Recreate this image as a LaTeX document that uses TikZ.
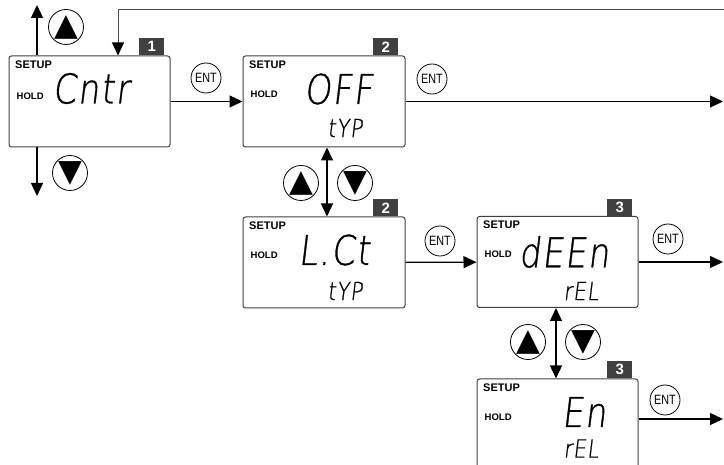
\documentclass[tikz,border=0pt]{standalone}
\usepackage{fontspec}
\setmainfont{Liberation Sans}
\newfontfamily\segfont[FakeSlant=0.12,FakeStretch=0.82,FakeBold=0.8,LetterSpace=4]{DejaVuSans-ExtraLight.ttf}
\newfontfamily\symfont{DejaVu Sans}
\newfontfamily\keyfont[FakeStretch=0.8]{Liberation Sans}
\usetikzlibrary{calc,arrows.meta}
\tikzset{
% LCD screens with their page tags
screen/.style={rectangle,draw=black!75,line width=1pt,rounded corners=2.5pt,minimum width=161pt,minimum height=91pt,inner sep=0},
pagetag/.style={fill=black!75,text=white,font=\bfseries\fontsize{15}{15}\selectfont,minimum width=25pt,minimum height=17pt,inner sep=0,anchor=south east},
setup/.style={font=\bfseries\fontsize{11}{11}\selectfont,anchor=west,inner sep=0},
hold/.style={font=\bfseries\fontsize{9.5}{9.5}\selectfont,anchor=west,inner sep=0},
bigseg/.style={font=\segfont\fontsize{41}{41}\selectfont,inner sep=0},
smallseg/.style={font=\segfont\fontsize{25}{25}\selectfont,inner sep=0},
% keys: arrow keys and ENT
arrowkey/.style={circle,draw,line width=0.8pt,minimum size=35pt,inner sep=0,font=\symfont\fontsize{31}{31}\selectfont},
enterkey/.style={circle,draw,line width=0.8pt,minimum size=30pt,inner sep=0,font=\keyfont\fontsize{13.5}{13.5}\selectfont},
link/.style={line width=1.3pt,-{Triangle[length=13pt,width=12pt,black]}},
twoway/.style={line width=1.3pt,{Triangle[length=13pt,width=12pt]}-{Triangle[length=13pt,width=12pt]}}
}
\begin{document}
\begin{tikzpicture}[x=1pt,y=-1pt]
\useasboundingbox (0,0) rectangle (724,465);
\clip (0,0) rectangle (724,465);

% screens
\node[screen] (cntr) at (89.5,101.5) {};
\node[screen,minimum width=162pt] (off) at (324,101.5) {};
\node[screen,minimum width=162pt] (lct) at (324,262.5) {};
\node[screen] (deen) at (557.5,262) {};
\node[screen] (en) at (557.5,424.5) {};

\node[pagetag] at ($(cntr.north east)+(-6,0)$) {1};
\node[pagetag] at ($(off.north east)+(-7,0)$) {2};
\node[pagetag] at ($(lct.north east)+(-7,0)$) {2};
\node[pagetag] at ($(deen.north east)+(-6,0)$) {3};
\node[pagetag] at ($(en.north east)+(-6,0)$) {3};

\node[setup] at ($(cntr.north west)+(6.5,9.5)$) {SETUP};
\node[setup] at ($(off.north west)+(6.5,9)$) {SETUP};
\node[setup] at ($(lct.north west)+(6.5,9)$) {SETUP};
\node[setup] at ($(deen.north west)+(6.5,9)$) {SETUP};
\node[setup] at ($(en.north west)+(6.5,9)$) {SETUP};

\node[hold] at ($(cntr.north west)+(8,41)$) {HOLD};
\node[hold] at ($(off.north west)+(8,38.5)$) {HOLD};
\node[hold] at ($(lct.north west)+(8,38.5)$) {HOLD};
\node[hold] at ($(deen.north west)+(8,38.5)$) {HOLD};
\node[hold] at ($(en.north west)+(8,38.5)$) {HOLD};

\node[bigseg] at (91,88.5) {Cntr};
\node[bigseg] at (338.5,89) {OFF};
\node[smallseg] at (345,128) {tYP};
\node[bigseg] at (334,250) {L.Ct};
\node[smallseg] at (345,291) {tYP};
\node[bigseg] at (564,252) {dEEn};
\node[smallseg] at (581,291) {rEL};
\node[bigseg] at (584,412) {En};
\node[smallseg] at (581,448.5) {rEL};

% keys
\node[arrowkey] (up1) at (66,27) {▲};
\node[arrowkey] (dn1) at (70,173) {▼};
\node[arrowkey] (up2) at (301,183) {▲};
\node[arrowkey] (dn2) at (355,183) {▼};
\node[arrowkey] (up3) at (528,342) {▲};
\node[arrowkey] (dn3) at (583,342) {▼};
\node[enterkey] (ent1) at (206,78) {ENT};
\node[enterkey] (ent2) at (432,79) {ENT};
\node[enterkey] (ent3) at (440,241) {ENT};
\node[enterkey] (ent4) at (668,239) {ENT};
\node[enterkey] (ent5) at (665,400) {ENT};

% connectors
\coordinate (rim) at (723,0);
\coordinate (top) at (37,5);
\coordinate (bottom) at (37,196);
\coordinate (back) at (724,10);

\draw[link] (cntr.north -| top) -- (top);
\draw[link] (cntr.south -| bottom) -- (bottom);
\draw[link,draw=black!70,line width=1pt] (back) -| ([xshift=28.5pt]cntr.north);
\path[link] (cntr) edge (off);
\draw[link] (off.east) -- (off.east -| rim);
\draw[twoway] ([xshift=3pt]off.south) -- ([xshift=3pt]lct.north);
\path[link] (lct) edge (deen);
\draw[link] (deen.east) -- (deen.east -| rim);
\draw[twoway] ([xshift=-1.5pt]deen.south) -- ([xshift=-1.5pt]en.north);
\draw[link] ([yshift=5.5pt]en.east) -- ([yshift=5.5pt]en.east -| rim);
\end{tikzpicture}
\end{document}
